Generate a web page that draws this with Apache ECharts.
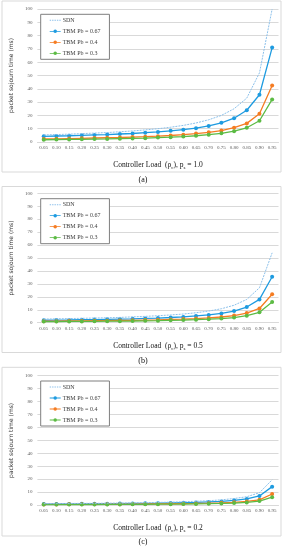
<!DOCTYPE html>
<html><head><meta charset="utf-8">
<script src="https://cdn.jsdelivr.net/npm/echarts@6/dist/echarts.min.js"></script>
<style>html,body{margin:0;padding:0;background:#fff}#c{width:286px;height:550px}</style>
</head><body><div id="c"></div>
<script>
const categories = ['0.05','0.10','0.15','0.20','0.25','0.30','0.35','0.40','0.45','0.50','0.55','0.60','0.65','0.70','0.75','0.80','0.85','0.90','0.95'];
const yTicks = [0,10,20,30,40,50,60,70,80,90,100];
const seriesNames = ['SDN','TBM Pb = 0.67','TBM Pb = 0.4','TBM Pb = 0.3'];
const panelLabels = ['(a)','(b)','(c)'];
const psValues = ['1.0','0.5','0.2'];

// Panel (a): ps = 1.0
const sdnA   = [5.3,5.6,5.9,6.3,6.7,7.1,7.7,8.3,9.1,10,11.1,12.5,14.3,16.7,20,25,33,52,100];
const tbm67A = [4.3,4.5,4.7,5.0,5.3,5.6,6.0,6.4,7.0,7.6,8.4,9.3,10.4,12.1,14.4,17.9,23.9,35.5,71];
const tbm4A  = [2.3,2.4,2.6,2.8,3.0,3.2,3.4,3.7,4.0,4.4,4.9,5.5,6.3,7.3,8.6,10.8,14.0,21.3,42.5];
const tbm3A  = [1.7,1.8,1.9,2.0,2.2,2.3,2.5,2.7,2.9,3.3,3.6,4.1,4.7,5.5,6.5,8.1,10.7,16,32];
// Panel (b): ps = 0.5
const sdnB   = [2.8,3.0,3.2,3.4,3.6,3.8,4.1,4.5,4.9,5.4,6.0,6.7,7.7,9.0,10.8,13.5,18,27,54];
const tbm67B = [1.9,2.0,2.1,2.3,2.4,2.6,2.8,3.0,3.3,3.6,4.0,4.5,5.2,6.0,7.2,9.0,12.1,18,35.5];
const tbm4B  = [1.2,1.2,1.3,1.4,1.5,1.6,1.7,1.8,2.0,2.2,2.5,2.8,3.2,3.7,4.4,5.5,7.4,11,22];
const tbm3B  = [0.9,0.9,0.95,1.0,1.1,1.15,1.2,1.3,1.45,1.6,1.8,2.0,2.3,2.7,3.2,4.0,5.4,8.0,16];
// Panel (c): ps = 0.2
const sdnC   = [1.05,1.1,1.2,1.25,1.3,1.4,1.5,1.7,1.8,2.0,2.2,2.5,2.9,3.3,4.0,5.0,6.4,9.5,19.5];
const tbm67C = [0.75,0.8,0.85,0.9,0.95,1.0,1.1,1.2,1.3,1.4,1.6,1.8,2.0,2.4,2.8,3.6,4.7,7.0,14.2];
const tbm4C  = [0.45,0.47,0.5,0.53,0.56,0.6,0.65,0.7,0.77,0.85,0.95,1.05,1.2,1.4,1.7,2.1,2.8,4.0,8.5];
const tbm3C  = [0.32,0.34,0.36,0.38,0.4,0.43,0.47,0.5,0.55,0.6,0.67,0.75,0.86,1.0,1.2,1.5,2.0,3.0,6.0];

const panels = [[sdnA,tbm67A,tbm4A,tbm3A],[sdnB,tbm67B,tbm4B,tbm3B],[sdnC,tbm67C,tbm4C,tbm3C]];

const colors = ['#8cc0ea','#1e9be0','#f57c22','#5cbb44'];
const layout = [
  {top:9, height:133, box:[2,1,279,171], legendTop:14.3, cap:180},
  {top:193.3, height:129.4, box:[2,186.5,279,166], legendTop:198.7, cap:361},
  {top:375.7, height:129.3, box:[2,367.3,279,168.7], legendTop:381, cap:542}
];
const serif = '"Liberation Serif","DejaVu Serif",serif';
const dottedIcon = 'path://M0,0h1.4v1h-1.4z M2.4,0h1.4v1h-1.4z M4.8,0h1.4v1h-1.4z M7.2,0h1.4v1h-1.4z M9.6,0h1.4v1h-1.4z';
const markerIcon = 'path://M0,2.6h11v0.8h-11z M5.5,1.2a1.8,1.8 0 1,1 -0.01,0z';

const grid=[], xAxis=[], yAxis=[], series=[], legend=[], graphic=[];
layout.forEach((L,i)=>{
  grid.push({left:31, right:7.5, top:L.top, height:L.height, containLabel:false});
  xAxis.push({type:'category', gridIndex:i, data:categories, boundaryGap:true,
    axisLine:{show:true,lineStyle:{color:'#d9d9d9'}}, axisTick:{show:false},
    axisLabel:{interval:0, fontSize:5, color:'#595959', fontFamily:serif, margin:3},
    name:'{a|Controller Load  (ρ}{s|c}{a|), p}{s|s}{a| = '+psValues[i]+'}',
    nameLocation:'middle', nameGap:19,
    nameTextStyle:{rich:{a:{fontSize:7.5,fontFamily:serif,color:'#111'},
                         s:{fontSize:5,fontFamily:serif,color:'#111',verticalAlign:'bottom',padding:[4,0,0,0]}}}
  });
  yAxis.push({type:'value', gridIndex:i, min:yTicks[0], max:yTicks[yTicks.length-1], interval:yTicks[1]-yTicks[0],
    axisLine:{show:false}, axisTick:{show:false},
    splitLine:{lineStyle:{color:'#d9d9d9',width:1}},
    axisLabel:{fontSize:5, color:'#595959', fontFamily:serif, margin:5},
    name:'packet sojourn time (ms)', nameLocation:'middle', nameGap:14,
    nameTextStyle:{fontSize:6, color:'#333', fontFamily:'"DejaVu Sans",sans-serif'}
  });
  panels[i].forEach((vals,k)=>{
    series.push({name:seriesNames[k], type:'line', xAxisIndex:i, yAxisIndex:i, data:vals,
      color:colors[k], animation:false,
      lineStyle:{width:k===0?1:1.3, color:colors[k], type:k===0?[2,1]:'solid'},
      symbol:k===0?'none':'circle', symbolSize:4, itemStyle:{color:colors[k]}, z:k===0?3:2});
  });
  legend.push({orient:'vertical', left:40.7, top:L.legendTop,
    data:seriesNames.map((n,k)=>({name:n, icon:k===0?dottedIcon:markerIcon, itemStyle:{color:colors[k]}})),
    itemWidth:11, itemHeight:6, itemGap:5, padding:[3,9,3,9],
    borderColor:'#7f7f7f', borderWidth:1, backgroundColor:'#fff',
    textStyle:{fontSize:6, fontFamily:serif, color:'#404040', padding:[0,0,0,-3]}, selectedMode:false});
  graphic.push({type:'rect', shape:{x:L.box[0],y:L.box[1],width:L.box[2],height:L.box[3]},
    style:{fill:'none',stroke:'#d9d9d9',lineWidth:1}, z:-1});
  graphic.push({type:'text', left:'center', top:L.cap-4,
    style:{text:panelLabels[i], font:'8px '+serif, fill:'#111'}});
});

const chart = echarts.init(document.getElementById('c'), null, {renderer:'canvas'});
chart.setOption({animation:false, grid, xAxis, yAxis, series, legend, graphic});
</script></body></html>
